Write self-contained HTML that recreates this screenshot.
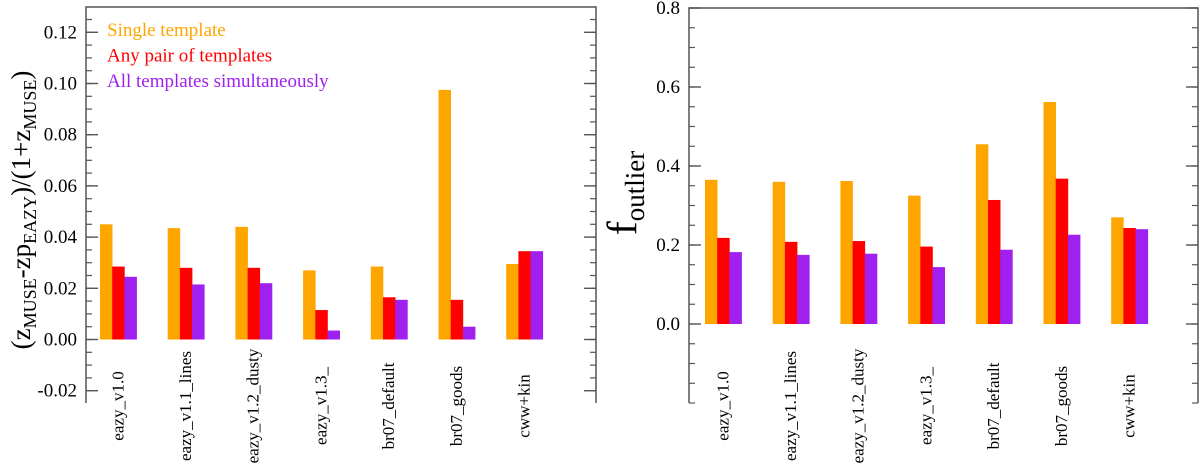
<!DOCTYPE html>
<html><head><meta charset="utf-8"><style>
html,body{margin:0;padding:0;background:#fff;font-family:"Liberation Serif","Times New Roman",Times,"DejaVu Serif",serif;}
svg{display:block;}
svg text, svg tspan{font-family:"Liberation Serif","Times New Roman",Times,"DejaVu Serif",serif;}
</style></head><body>
<svg id="c" width="1200" height="464" viewBox="0 0 1200 464" xmlns="http://www.w3.org/2000/svg"></svg>
<script>
const categories = ["eazy_v1.0","eazy_v1.1_lines","eazy_v1.2_dusty","eazy_v1.3_","br07_default","br07_goods","cww+kin"];
const seriesNames = ["Single template","Any pair of templates","All templates simultaneously"];
const leftSingle = [0.045,0.0435,0.044,0.027,0.0285,0.0975,0.0295];
const leftPair = [0.0285,0.028,0.028,0.0115,0.0165,0.0155,0.0345];
const leftAll = [0.0245,0.0215,0.022,0.0035,0.0155,0.005,0.0345];
const rightSingle = [0.365,0.36,0.362,0.325,0.455,0.562,0.27];
const rightPair = [0.218,0.208,0.21,0.196,0.314,0.368,0.243];
const rightAll = [0.182,0.175,0.178,0.144,0.188,0.226,0.24];
const leftTicks = ["-0.02","0.00","0.02","0.04","0.06","0.08","0.10","0.12"];
const rightTicks = ["0.0","0.2","0.4","0.6","0.8"];

const colors = ["#FFA500","#FF0000","#A020F0"];
const NS = "http://www.w3.org/2000/svg";
const svg = document.getElementById('c');
function mk(tag, attrs, parent){
  const e = document.createElementNS(NS, tag);
  for (const k in attrs) e.setAttribute(k, attrs[k]);
  if (tag === 'text') e.setAttribute('font-family', 'Liberation Serif, Times New Roman, DejaVu Serif, serif');
  (parent||svg).appendChild(e);
  return e;
}

function panel2(p){
  const g = mk('g', {});
  
  
  const y = v => p.zeroY - v * p.pxPerUnit;
  const xg = i => p.x0 + p.firstBar + i * p.groupStep;
  const fr = mk('path', {d:`M${p.x0},${p.bottom} L${p.x0},${p.top} L${p.x1},${p.top} L${p.x1},${p.bottom}`, fill:'none', stroke:'#555', 'stroke-width':1.5}, g);
  
  
  const vLo = (p.zeroY - p.bottom) / p.pxPerUnit, vHi = (p.zeroY - p.top) / p.pxPerUnit;
  const kStart = Math.ceil(vLo / p.minor - 1e-6), kEnd = Math.floor(vHi / p.minor + 1e-6);
  for (let k = kStart; k <= kEnd; k++){
    const yy = y(k * p.minor);
    mk('line', {x1:p.x0, x2:p.x0+6, y1:yy, y2:yy, stroke:'#555', 'stroke-width':1.2}, g);
    mk('line', {x1:p.x1, x2:p.x1-6, y1:yy, y2:yy, stroke:'#555', 'stroke-width':1.2}, g);
  }
  p.ticks.forEach(t => {
    const yy = y(parseFloat(t));
    mk('line', {x1:p.x0, x2:p.x0+12, y1:yy, y2:yy, stroke:'#555', 'stroke-width':1.4}, g);
    mk('line', {x1:p.x1, x2:p.x1-12, y1:yy, y2:yy, stroke:'#555', 'stroke-width':1.4}, g);
    const tx = mk('text', {x:p.x0-9, y:yy+6, 'text-anchor':'end', 'font-size':19, fill:'#000'}, g);
    
    
    tx.textContent = t;
  });
  [p.s1, p.s2, p.s3].forEach((arr, si) => {
    arr.forEach((v, i) => {
      const top = y(v), base = y(0);
      const r = mk('rect', {x:xg(i) + si*p.bw, y:Math.min(top,base), width:p.bw+0.3, height:Math.abs(base-top), fill:colors[si]}, g);
      
      
    });
  });
  categories.forEach((c, i) => {
    const cx = xg(i) + 1.5*p.bw + 5;
    const t = mk('text', {x:0, y:0, transform:`translate(${cx},${p.labelY}) rotate(-90)`, 'text-anchor':'middle', 'font-size':17, fill:'#000'}, g);
    
    
    t.textContent = c;
  });
}
panel2({name:'left-panel', x0:86, x1:596, top:7, bottom:403, zeroY:339.5, pxPerUnit:51.2/0.02, minor:0.005,
  firstBar:14, groupStep:67.7, bw:12.2, ticks:leftTicks, s1:leftSingle, s2:leftPair, s3:leftAll, labelY:406});
panel2({name:'right-panel', x0:689, x1:1198, top:8, bottom:403, zeroY:324, pxPerUnit:79/0.2, minor:0.05,
  firstBar:16, groupStep:67.7, bw:12.2, ticks:rightTicks, s1:rightSingle, s2:rightPair, s3:rightAll, labelY:406});

seriesNames.forEach((n, i) => {
  const t = mk('text', {x:107, y:36 + i*25.5, 'font-size':19, fill:colors[i]});
  
  
  t.textContent = n;
});

const yl = mk('text', {x:0, y:0, transform:'translate(30,210) rotate(-90)', 'text-anchor':'middle', 'font-size':27, fill:'#000'});


yl.innerHTML = '(z<tspan font-size="18" dy="6">MUSE</tspan><tspan dy="-6">-zp</tspan><tspan font-size="18" dy="6">EAZY</tspan><tspan dy="-6">)/(1+z</tspan><tspan font-size="18" dy="6">MUSE</tspan><tspan dy="-6">)</tspan>';

const yr = mk('text', {x:0, y:0, transform:'translate(636,193) rotate(-90)', 'text-anchor':'middle', 'font-size':42, fill:'#000'});


yr.innerHTML = 'f<tspan font-size="27" dy="8">outlier</tspan>';
</script>
</body></html>
